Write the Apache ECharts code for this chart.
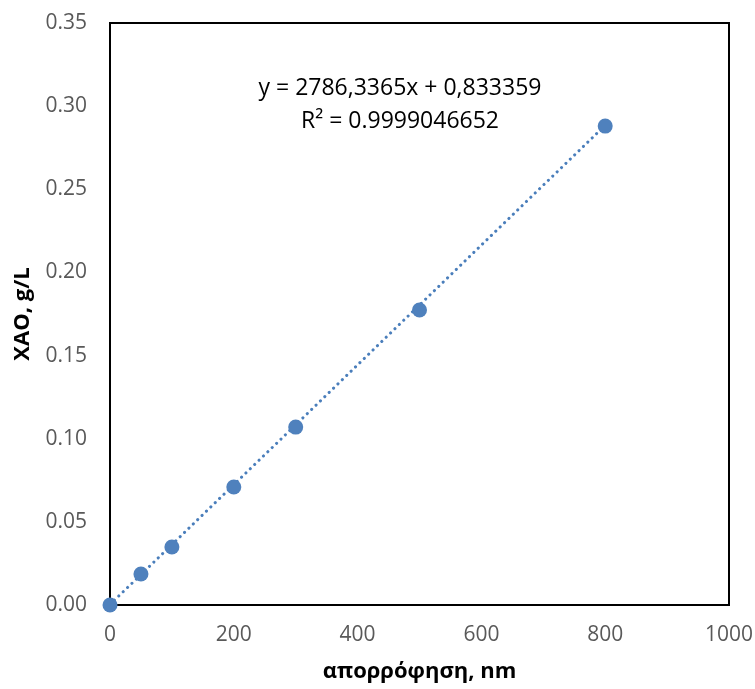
<!DOCTYPE html>
<html>
<head>
<meta charset="utf-8">
<script src="https://cdn.jsdelivr.net/npm/echarts@6/dist/echarts.min.js"></script>
<style>
  html, body { margin: 0; padding: 0; background: #fff; }
  #chart { width: 755px; height: 689px; }
</style>
</head>
<body>
<div id="chart"></div>
<script>
// measured points
const xValues = [0, 50, 100, 200, 300, 500, 800]
const yValues = [0, 0.0186, 0.0349, 0.071, 0.107, 0.1774, 0.288]
// trendline end points
const trendX = [0, 800]
const trendY = [0.0003, 0.2885]
const equationText = 'y = 2786,3365x + 0,833359'
const r2Text = 'R² = 0.9999046652'

const font = '"Open Sans", "Liberation Sans", sans-serif'
const chart = echarts.init(document.getElementById('chart'))

const option = {
  animation: false,
  grid: {
    left: 110, right: 26, top: 23, bottom: 84,
    containLabel: false, outerBoundsMode: 'none',
    show: true, borderColor: '#000', borderWidth: 2, backgroundColor: '#fff'
  },
  xAxis: {
    type: 'value',
    min: 0, max: 1000, interval: 200,
    name: 'απορρόφηση, nm',
    nameLocation: 'middle',
    nameGap: 56,
    nameTextStyle: { fontFamily: font, fontSize: 22, fontWeight: 'bold', color: '#000' },
    axisLine: { show: false },
    axisTick: { show: false },
    splitLine: { show: false },
    axisLabel: { fontFamily: font, fontSize: 21, color: '#595959', margin: 20, formatter: v => String(v) }
  },
  yAxis: {
    type: 'value',
    min: 0, max: 0.35, interval: 0.05,
    name: 'XAO, g/L',
    nameLocation: 'middle',
    nameGap: 76,
    nameTextStyle: { fontFamily: font, fontSize: 22, fontWeight: 'bold', color: '#000' },
    axisLine: { show: false },
    axisTick: { show: false },
    splitLine: { show: false },
    axisLabel: { fontFamily: font, fontSize: 21, color: '#595959', margin: 23, formatter: v => v.toFixed(2) }
  },
  series: [
    {
      type: 'line',
      data: trendX.map((x, i) => [x, trendY[i]]),
      showSymbol: false,
      lineStyle: { color: '#4a7ebb', width: 3, type: [0.1, 6], cap: 'round' },
      silent: true,
      z: 1
    },
    {
      type: 'scatter',
      data: xValues.map((x, i) => [x, yValues[i]]),
      symbolSize: 15,
      itemStyle: { color: '#4f81bd', opacity: 1 },
      z: 2
    }
  ],
  graphic: [
    {
      type: 'text',
      x: 400,
      y: 72,
      style: { text: equationText + '\n' + r2Text, font: '23px ' + font, fill: '#000', align: 'center', verticalAlign: 'top', lineHeight: 33 }
    }
  ]
}

chart.setOption(option)
</script>
</body>
</html>
